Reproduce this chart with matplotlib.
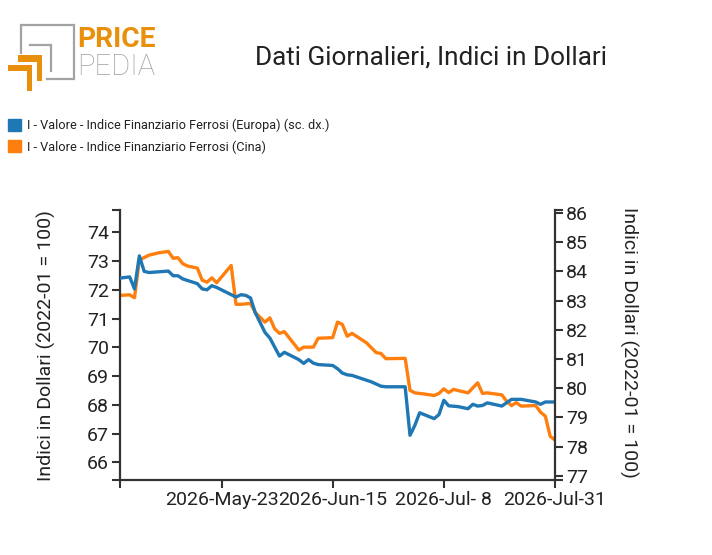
"""Daily ferrous-metals financial index, Europe vs China, in dollars."""

import matplotlib

matplotlib.use("Agg")
import matplotlib.dates as mdates
import matplotlib.pyplot as plt
import pandas as pd
from matplotlib.patches import Patch, Rectangle

# China index (left scale)
china_dates = [
    "2026-05-02", "2026-05-04", "2026-05-05", "2026-05-06", "2026-05-08", "2026-05-10",
    "2026-05-12", "2026-05-13", "2026-05-14", "2026-05-15", "2026-05-16", "2026-05-18",
    "2026-05-19", "2026-05-20", "2026-05-21", "2026-05-22", "2026-05-25", "2026-05-26",
    "2026-05-27", "2026-05-29", "2026-05-30", "2026-06-01", "2026-06-02", "2026-06-03",
    "2026-06-04", "2026-06-05", "2026-06-08", "2026-06-09", "2026-06-11", "2026-06-12",
    "2026-06-15", "2026-06-16", "2026-06-17", "2026-06-18", "2026-06-19", "2026-06-22",
    "2026-06-24", "2026-06-25", "2026-06-26", "2026-06-30", "2026-07-01", "2026-07-02",
    "2026-07-04", "2026-07-06", "2026-07-07", "2026-07-08", "2026-07-09", "2026-07-10",
    "2026-07-13", "2026-07-15", "2026-07-16", "2026-07-17", "2026-07-20", "2026-07-21",
    "2026-07-22", "2026-07-23", "2026-07-24", "2026-07-27", "2026-07-28", "2026-07-29",
    "2026-07-30", "2026-07-31",
]
china_values = [
    71.81, 71.83, 71.73, 73.04, 73.21, 73.29,
    73.34, 73.10, 73.12, 72.91, 72.83, 72.76,
    72.34, 72.27, 72.42, 72.25, 72.85, 71.50,
    71.50, 71.53, 71.21, 70.88, 71.03, 70.65,
    70.49, 70.55, 69.91, 70.01, 70.01, 70.32,
    70.34, 70.88, 70.80, 70.39, 70.49, 70.16,
    69.82, 69.79, 69.61, 69.62, 68.51, 68.42,
    68.38, 68.33, 68.40, 68.56, 68.43, 68.54,
    68.42, 68.77, 68.40, 68.42, 68.35, 68.13,
    67.98, 68.08, 67.96, 67.98, 67.75, 67.61,
    66.91, 66.78,
]

# Europe index (right scale)
europe_dates = [
    "2026-05-02", "2026-05-04", "2026-05-05", "2026-05-06", "2026-05-07", "2026-05-08",
    "2026-05-12", "2026-05-13", "2026-05-14", "2026-05-15", "2026-05-18", "2026-05-19",
    "2026-05-20", "2026-05-21", "2026-05-22", "2026-05-26", "2026-05-27", "2026-05-28",
    "2026-05-29", "2026-05-30", "2026-06-01", "2026-06-02", "2026-06-04", "2026-06-05",
    "2026-06-08", "2026-06-09", "2026-06-10", "2026-06-11", "2026-06-12", "2026-06-15",
    "2026-06-16", "2026-06-17", "2026-06-18", "2026-06-19", "2026-06-23", "2026-06-25",
    "2026-06-26", "2026-06-30", "2026-07-01", "2026-07-02", "2026-07-03", "2026-07-06",
    "2026-07-07", "2026-07-08", "2026-07-09", "2026-07-11", "2026-07-13", "2026-07-14",
    "2026-07-15", "2026-07-16", "2026-07-17", "2026-07-20", "2026-07-22", "2026-07-24",
    "2026-07-27", "2026-07-28", "2026-07-29", "2026-07-31",
]
europe_values = [
    83.77, 83.81, 83.40, 84.53, 84.00, 83.96,
    84.01, 83.85, 83.85, 83.74, 83.58, 83.40,
    83.37, 83.51, 83.45, 83.12, 83.20, 83.18,
    83.09, 82.58, 81.91, 81.72, 81.10, 81.23,
    80.98, 80.85, 80.98, 80.86, 80.81, 80.78,
    80.67, 80.52, 80.46, 80.44, 80.22, 80.07,
    80.05, 80.05, 78.39, 78.73, 79.16, 78.96,
    79.10, 79.59, 79.40, 79.37, 79.30, 79.45,
    79.39, 79.41, 79.50, 79.39, 79.62, 79.62,
    79.53, 79.45, 79.53, 79.53,
]

tick_dates = ["2026-05-23", "2026-06-15", "2026-07-08", "2026-07-31"]
left_ticks = list(range(66, 75))
right_ticks = list(range(77, 87))

label_europe = "I - Valore - Indice Finanziario Ferrosi (Europa) (sc. dx.)"
label_china = "I - Valore - Indice Finanziario Ferrosi (Cina)"
title = "Dati Giornalieri, Indici in Dollari"
y_label = "Indici in Dollari (2022-01 = 100)"

BLUE = "#1f77b4"
ORANGE = "#ff7f0e"
AXIS = "#333333"
TEXT = "#222222"

plt.rcParams["font.family"] = ["Roboto", "DejaVu Sans"]

W, H = 712, 555
fig = plt.figure(figsize=(W / 100, H / 100), dpi=100)


def fx(px):
    return px / W


def fy(py):
    return 1 - py / H


ax = fig.add_axes([fx(120), fy(480), fx(555) - fx(120), fy(210) - fy(480)])
ax2 = ax.twinx()

cd = pd.to_datetime(china_dates)
ed = pd.to_datetime(europe_dates)
ax.plot(cd, china_values, color=ORANGE, lw=2.4, solid_joinstyle="round")
ax2.plot(ed, europe_values, color=BLUE, lw=2.4, solid_joinstyle="round")

ax.set_xlim(cd[0], cd[-1])
ax.set_ylim(65.39, 74.78)
ax2.set_ylim(76.86, 86.10)

ax.set_yticks(left_ticks)
ax2.set_yticks(right_ticks)
ax.set_xticks(pd.to_datetime(tick_dates))
ax.xaxis.set_major_formatter(
    matplotlib.ticker.FuncFormatter(
        lambda v, _: (lambda d: f"{d.year}-{d:%b}-{d.day:2d}")(mdates.num2date(v))
    )
)
# outer ticks at the ends of each axis line
ax.set_xticks([mdates.date2num(cd[0])], minor=True)
ax.set_yticks(list(ax.get_ylim()), minor=True)
ax2.set_yticks(list(ax2.get_ylim()), minor=True)

for a in (ax, ax2):
    a.spines["top"].set_visible(False)
    for s in a.spines.values():
        s.set_color(AXIS)
        s.set_linewidth(1.6)
    a.tick_params(which="both", length=6, width=1.5, color=AXIS, labelcolor=TEXT,
                  labelsize=14, pad=2)
    a.tick_params(which="minor", labelleft=False, labelright=False, labelbottom=False)
ax.spines["right"].set_visible(False)
ax2.spines["left"].set_visible(False)
ax2.spines["bottom"].set_visible(False)

fig.text(fx(46), fy(346), y_label, rotation=90, ha="center", va="center",
         fontsize=14, color=TEXT)
fig.text(fx(629), fy(342), y_label, rotation=270, ha="center", va="center",
         fontsize=14, color=TEXT)
fig.text(fx(431), fy(58), title, ha="center", va="center", fontsize=18.8, color=TEXT)

fig.legend(
    handles=[Patch(color=BLUE, label=label_europe), Patch(color=ORANGE, label=label_china)],
    loc="upper left", bbox_to_anchor=(fx(8), fy(119)), frameon=False,
    fontsize=9.2, handlelength=1.05, handleheight=1.05, handletextpad=0.4,
    labelspacing=0.62, borderaxespad=0, borderpad=0, labelcolor=TEXT,
)

# logo
logo = fig.add_axes([0, 0, 1, 1], zorder=-1)
logo.set_xlim(0, W)
logo.set_ylim(H, 0)
logo.axis("off")
GRAY = "#a3a3a3"
LOGO_OR = "#e8900c"
logo.plot([20.7, 20.7, 74, 74, 46.7], [53, 24.7, 24.7, 79.3, 79.3], color=GRAY, lw=1.6,
          solid_joinstyle="miter")
logo.plot([30, 51.3, 51.3], [45.3, 45.3, 71], color=GRAY, lw=1.6, solid_joinstyle="miter")
logo.add_patch(Rectangle((18.3, 55.3), 24, 6.7, color=LOGO_OR, lw=0))
logo.add_patch(Rectangle((36.5, 55.3), 5.8, 26, color=LOGO_OR, lw=0))
logo.add_patch(Rectangle((8.3, 64.7), 24, 6.7, color=LOGO_OR, lw=0))
logo.add_patch(Rectangle((26.5, 64.7), 5.8, 26, color=LOGO_OR, lw=0))
logo.text(77, 47.3, "PRICE", fontsize=20.3, fontweight="bold", color=LOGO_OR,
          ha="left", va="baseline")
logo.text(77, 74.7, "PEDIA", fontsize=21, fontweight="light", color=GRAY,
          ha="left", va="baseline")

fig.savefig("out.png", dpi=100)
